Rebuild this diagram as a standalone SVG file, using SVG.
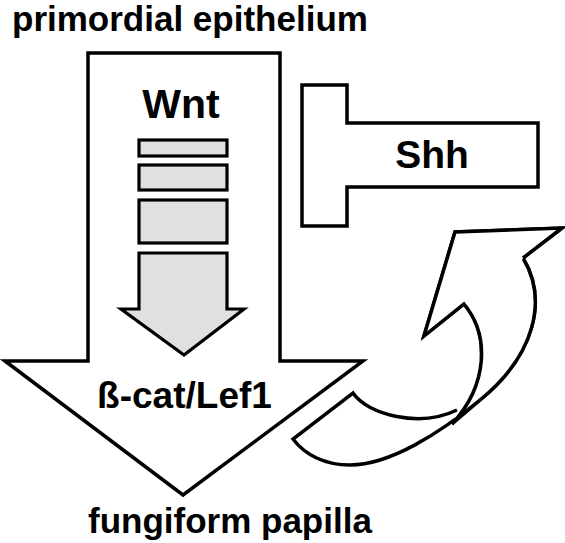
<svg xmlns="http://www.w3.org/2000/svg" width="565" height="543" viewBox="0 0 565 543">
<style>
.t{font-family:"Liberation Sans",Arial,Helvetica,sans-serif;font-weight:bold;fill:#000}
.s{stroke:#000;stroke-width:3.5;stroke-linejoin:miter;fill:#fff}
.g{stroke:#000;stroke-width:3.2;fill:#e0e0e0}
</style>
<rect width="565" height="543" fill="#fff"/>
<text class="t" x="12" y="31" font-size="35">primordial epithelium</text>
<g id="main-arrow">
<path class="s" d="M88,53 L280,53 L280,361 L363,361 L183,495 L5,361 L88,361 Z"/>
</g>
<g id="wnt">
<text class="t" x="181" y="118" font-size="41" text-anchor="middle">Wnt</text>
<rect class="g" x="139" y="140" width="88" height="16"/>
<rect class="g" x="139" y="165" width="88" height="25"/>
<rect class="g" x="139" y="200" width="88" height="43"/>
<path class="g" d="M139,253 L227,253 L227,309 L244,309 L184,355 L121,309 L139,309 Z"/>
</g>
<g id="bcat">
<text class="t" x="184.5" y="408" font-size="37" text-anchor="middle">ß-cat/Lef1</text>
</g>
<g id="shh">
<path class="s" d="M302,85 L347,85 L347,123 L538,123 L538,187 L347,187 L347,226 L302,226 Z"/>
<text class="t" x="432" y="168" font-size="39" text-anchor="middle">Shh</text>
</g>
<g id="connectors">
<path class="s" d="M523,258 L562,228 L455,232 L424,336 L464,304 C490,335 488,385 452,424 L480,400 C535,355 548,300 523,258 Z" stroke="none"/>
<path class="s" d="M523,258 C548,300 535,355 480,400 C440,433 390,465 350,465 C325,465 305,455 293,439 L353,393 C368,415 420,428 457,410"/>
<path class="s" d="M523,258 L562,228 L455,232 L424,336 L464,304 C490,335 488,385 452,424" fill="none"/>
</g>
<text class="t" x="88" y="533" font-size="35">fungiform papilla</text>
</svg>
